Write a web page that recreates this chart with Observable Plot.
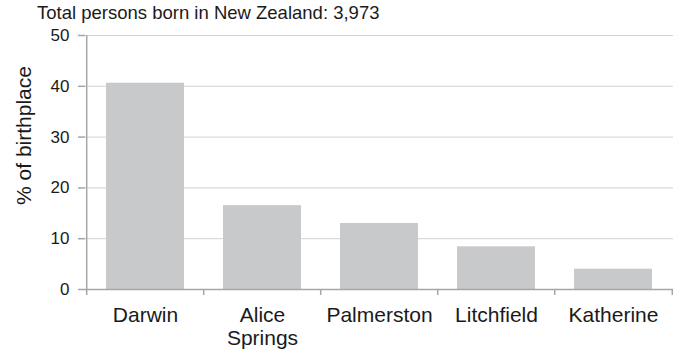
<!DOCTYPE html>
<html>
<head>
<meta charset="utf-8">
<script src="https://cdn.jsdelivr.net/npm/d3@7"></script>
<script src="https://cdn.jsdelivr.net/npm/@observablehq/plot@0.6"></script>
<style>
  html, body { margin: 0; padding: 0; background: #fff; }
  #wrap { position: relative; width: 680px; height: 352px; font-family: "Liberation Sans", Arial, sans-serif; }
  #title { position: absolute; left: 37px; top: 4px; font-size: 18.5px; line-height: 1; color: #1a1a1a; white-space: nowrap; z-index: 2; }
</style>
</head>
<body>
<div id="wrap"><div id="title">Total persons born in New Zealand: 3,973</div></div>
<script>
const categories = ["Darwin", "Alice Springs", "Palmerston", "Litchfield", "Katherine"];
const tickLabels = ["Darwin", "Alice\nSprings", "Palmerston", "Litchfield", "Katherine"];
const values = [40.6, 16.5, 13.0, 8.4, 4.0];
const yTicks = [0, 10, 20, 30, 40, 50];
const yLabel = "% of birthplace";

const data = categories.map((c, i) => ({category: c, value: values[i]}));

const W = 680, H = 352, mt = 35, mb = 63, ml = 85, mr = 7;
const step = (W - ml - mr) / categories.length;
const frameH = H - mt - mb;
const axisColor = "#a6a6a6";

const chart = Plot.plot({
  width: W, height: H,
  marginTop: mt, marginBottom: mb, marginLeft: ml, marginRight: mr,
  style: {fontFamily: "'Liberation Sans', Arial, sans-serif", color: "#1a1a1a", background: "transparent", overflow: "visible"},
  x: {domain: categories, paddingInner: 0.33, paddingOuter: 0.165, axis: null},
  y: {domain: [0, 50], axis: null},
  marks: [
    Plot.ruleY(yTicks.filter(d => d > 0), {stroke: "#d2d2d2", strokeWidth: 1}),
    Plot.barY(data, {x: "category", y: "value", fill: "#c8c9cb"}),
    Plot.ruleY([0], {stroke: axisColor, strokeWidth: 1.5}),
    Plot.ruleX([categories[0]], {x: d => d, dx: -step / 2, stroke: axisColor, strokeWidth: 1.5}),
    Plot.ruleX(categories, {x: d => d, dx: -step / 2, insetTop: frameH, insetBottom: -6, stroke: axisColor, strokeWidth: 1.5}),
    Plot.ruleX([categories[categories.length - 1]], {x: d => d, dx: step / 2, insetTop: frameH, insetBottom: -6, stroke: axisColor, strokeWidth: 1.5}),
    Plot.axisY({ticks: yTicks, tickSize: 7, tickPadding: 9, fontSize: 17, stroke: axisColor, strokeWidth: 1.5, label: null}),
    Plot.text(categories, {x: d => d, text: (d, i) => tickLabels[i], frameAnchor: "bottom", lineAnchor: "top", dy: 15.3, fontSize: 21, lineHeight: 1.12, fill: "#1a1a1a"}),
    Plot.text([yLabel], {frameAnchor: "left", textAnchor: "middle", rotate: -90, dx: -61, dy: -27, fontSize: 21, fill: "#1a1a1a"})
  ]
});
document.getElementById("wrap").appendChild(chart);
</script>
</body>
</html>
